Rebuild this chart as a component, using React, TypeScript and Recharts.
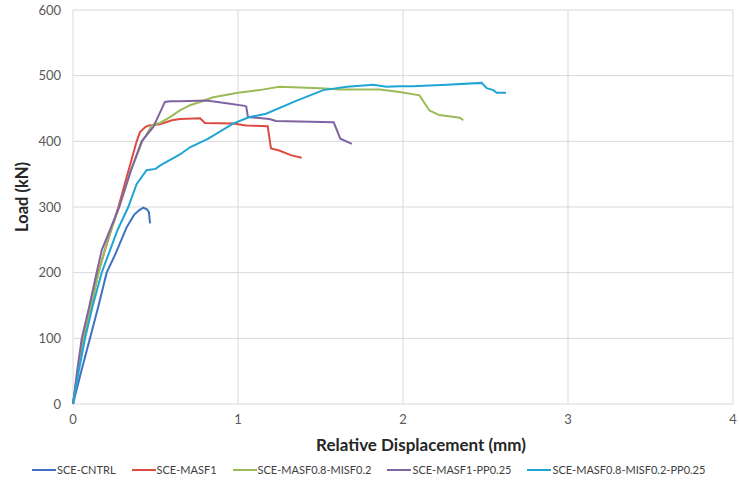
import React from "react";
import { LineChart, Line, XAxis, YAxis, CartesianGrid, Legend } from "recharts";

const xTicks = [0, 1, 2, 3, 4];
const yTicks = [0, 100, 200, 300, 400, 500, 600];

const cntrlX = [0, 0.05, 0.103, 0.155, 0.204, 0.26, 0.325, 0.37, 0.4, 0.426, 0.45, 0.46, 0.467];
const cntrlY = [0, 50, 100, 150, 200, 230, 269, 288, 295, 299, 296, 292, 275];

const masf1X = [0, 0.03, 0.063, 0.11, 0.153, 0.2, 0.275, 0.33, 0.386, 0.406, 0.44, 0.46, 0.527, 0.6, 0.648, 0.77, 0.8, 0.97, 1.05, 1.18, 1.2, 1.25, 1.32, 1.386];
const masf1Y = [0, 50, 100, 150, 200, 240, 300, 350, 400, 414, 422, 424, 426, 432, 434, 435, 428, 427, 424, 423, 389, 386, 379, 375];

const greenX = [0, 0.03, 0.065, 0.11, 0.155, 0.21, 0.28, 0.35, 0.42, 0.48, 0.527, 0.588, 0.648, 0.709, 0.77, 0.85, 1.0, 1.13, 1.25, 1.5, 1.62, 1.86, 1.98, 2.1, 2.16, 2.22, 2.345, 2.365];
const greenY = [0, 50, 100, 150, 200, 250, 300, 355, 400, 425, 428, 437, 447, 455, 460, 467, 474, 478, 483, 481, 479, 479, 475, 470, 447, 440, 436, 432];

const purpleX = [0, 0.025, 0.053, 0.1, 0.143, 0.174, 0.28, 0.35, 0.416, 0.487, 0.52, 0.557, 0.588, 0.648, 0.81, 0.93, 1.04, 1.05, 1.06, 1.19, 1.23, 1.58, 1.62, 1.69];
const purpleY = [0, 50, 100, 150, 200, 234, 300, 355, 400, 422, 440, 460, 461, 461, 462, 458, 454, 453, 437, 434, 431, 429, 404, 396];

const cyanX = [0, 0.035, 0.073, 0.12, 0.174, 0.224, 0.27, 0.335, 0.386, 0.446, 0.5, 0.527, 0.648, 0.709, 0.82, 0.97, 1.07, 1.17, 1.356, 1.517, 1.66, 1.82, 1.9, 1.98, 2.06, 2.265, 2.477, 2.507, 2.547, 2.568, 2.624];
const cyanY = [0, 50, 100, 150, 200, 234, 265, 300, 335, 356, 358, 363, 380, 391, 404, 427, 437, 442, 462, 478, 483, 486, 483, 484, 484, 486, 489, 481, 478, 474, 474];

const seriesNames = ["SCE-CNTRL", "SCE-MASF1", "SCE-MASF0.8-MISF0.2", "SCE-MASF1-PP0.25", "SCE-MASF0.8-MISF0.2-PP0.25"];
const seriesColors = ["#3F70C2", "#DE4A42", "#9BBB59", "#8064A2", "#1FA5D4"];

const toPoints = (xs: number[], ys: number[]) => xs.map((x, i) => ({ x, y: ys[i] }));
const seriesData = [
  toPoints(cntrlX, cntrlY),
  toPoints(masf1X, masf1Y),
  toPoints(greenX, greenY),
  toPoints(purpleX, purpleY),
  toPoints(cyanX, cyanY),
];

const FONT = "Lato, 'Open Sans', sans-serif";

const renderLegend = () => (
  <div style={{ display: "flex", alignItems: "center", fontFamily: FONT, fontSize: 11, color: "#404040", whiteSpace: "nowrap" }}>
    {seriesNames.map((n, i) => (
      <div key={n} style={{ display: "flex", alignItems: "center", marginRight: 16 }}>
        <div style={{ width: 24, height: 2, background: seriesColors[i], marginRight: 1 }} />
        <span>{n}</span>
      </div>
    ))}
  </div>
);

export default function App() {
  return (
    <div style={{ position: "absolute", left: 0, top: 0, width: 739, height: 482, background: "#fff", overflow: "hidden" }}>
      <LineChart width={739} height={482} margin={{ top: 10, right: 6, bottom: 15, left: 0 }}>
        <CartesianGrid stroke="#D9D9D9" strokeWidth={1} />
        <XAxis
          type="number"
          dataKey="x"
          domain={[0, 4]}
          ticks={xTicks}
          axisLine={false}
          tickLine={false}
          tick={{ fill: "#595959", fontSize: 13, fontFamily: FONT }}
          tickMargin={5}
          height={50}
          allowDuplicatedCategory={false}
          label={{ value: "Relative Displacement (mm)", position: "insideBottom", offset: 3, dx: 18, fill: "#262626", fontSize: 17, fontWeight: "bold", fontFamily: FONT }}
        />
        <YAxis
          type="number"
          dataKey="y"
          domain={[0, 600]}
          ticks={yTicks}
          axisLine={false}
          tickLine={false}
          width={73}
          tickMargin={6}
          tick={{ fill: "#595959", fontSize: 13, fontFamily: FONT }}
          label={{ value: "Load (kN)", angle: -90, position: "insideLeft", offset: 22, dy: -10, style: { textAnchor: "middle" }, fill: "#262626", fontSize: 16.5, fontWeight: "bold", fontFamily: FONT }}
        />
        {seriesData.map((d, i) => (
          <Line
            key={seriesNames[i]}
            data={d}
            dataKey="y"
            name={seriesNames[i]}
            type="linear"
            stroke={seriesColors[i]}
            strokeWidth={2}
            dot={false}
            activeDot={false}
            isAnimationActive={false}
          />
        ))}
        <Legend content={renderLegend} wrapperStyle={{ position: "absolute", left: 32, top: 463, width: 720 }} />
      </LineChart>
    </div>
  );
}
